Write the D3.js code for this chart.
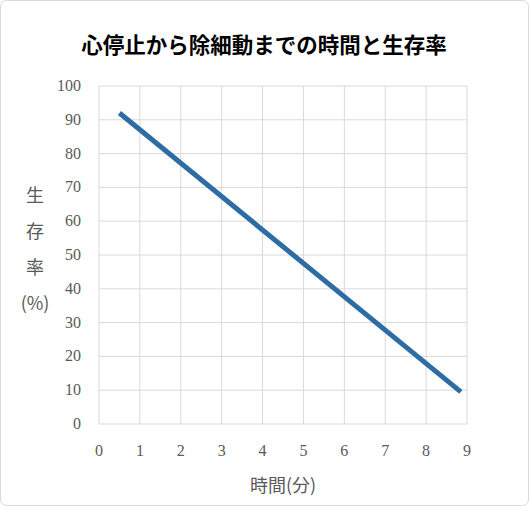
<!DOCTYPE html>
<html><head><meta charset="utf-8">
<script src="https://cdn.jsdelivr.net/npm/d3@7"></script>
<style>body{margin:0;background:#fff}</style></head>
<body><svg id="c" width="529" height="506"></svg>
<script>
const title = "心停止から除細動までの時間と生存率";
const xLabel = "時間(分)";
const yLabelChars = ["生","存","率","(%)"];
const minutes = [0.5, 8.85];
const survival = [92, 9.5];
const xTicks = [0,1,2,3,4,5,6,7,8,9];
const yTicks = [0,10,20,30,40,50,60,70,80,90,100];

const svg = d3.select("#c");
svg.append("rect").attr("x",0.5).attr("y",0.5).attr("width",528).attr("height",505)
  .attr("rx",6).attr("fill","#fff").attr("stroke","#d9d9d9");
const x = d3.scaleLinear().domain([0,9]).range([99,467]);
const y = d3.scaleLinear().domain([0,100]).range([424,86]);
const serif = "'Liberation Serif','DejaVu Serif',serif";
const g = svg.append("g");
g.selectAll(".vg").data(xTicks).join("line").attr("x1",d=>x(d)).attr("x2",d=>x(d))
  .attr("y1",y(0)).attr("y2",y(100)).attr("stroke","#d9d9d9");
g.selectAll(".hg").data(yTicks).join("line").attr("x1",x(0)).attr("x2",x(9))
  .attr("y1",d=>y(d)).attr("y2",d=>y(d)).attr("stroke","#d9d9d9");
g.selectAll(".xt").data(xTicks).join("text").attr("x",d=>x(d)).attr("y",456)
  .attr("text-anchor","middle").attr("font-family",serif).attr("font-size",16).attr("fill","#595959").text(d=>d);
g.selectAll(".yt").data(yTicks).join("text").attr("x",81).attr("y",d=>y(d)+5)
  .attr("text-anchor","end").attr("font-family",serif).attr("font-size",16).attr("fill","#595959").text(d=>d);
const pts = minutes.map((m,i)=>[m,survival[i]]);
g.append("path").datum(pts).attr("d",d3.line().x(d=>x(d[0])).y(d=>y(d[1])))
  .attr("stroke","#2e6ca4").attr("stroke-width",5).attr("fill","none");
svg.append("text").attr("x",264).attr("y",53).attr("text-anchor","middle")
  .attr("font-family","'Noto Sans CJK JP'").attr("font-weight","bold").attr("font-size",21.5).attr("fill","#000").text(title);
svg.append("text").attr("x",283).attr("y",492).attr("text-anchor","middle")
  .attr("font-family","'Noto Sans CJK JP'").attr("font-size",18).attr("fill","#595959").text(xLabel);
svg.selectAll(".yl").data(yLabelChars).join("text").attr("x",35).attr("y",(d,i)=>202+i*36)
  .attr("text-anchor","middle").attr("font-family","'Noto Sans CJK JP'").attr("font-size",18).attr("fill","#595959").text(d=>d);
</script></body></html>
